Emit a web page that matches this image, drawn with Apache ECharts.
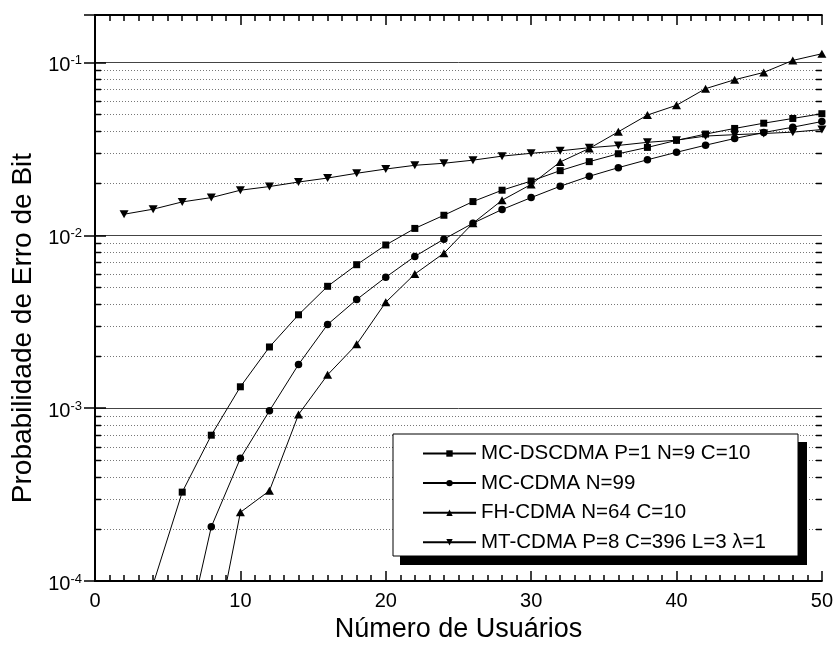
<!DOCTYPE html>
<html>
<head>
<meta charset="utf-8">
<script src="https://cdn.jsdelivr.net/npm/echarts@6/dist/echarts.min.js"></script>
<style>
  html, body { margin: 0; padding: 0; background: #fff; }
  #main { width: 836px; height: 648px; }
</style>
</head>
<body>
<div id="main"></div>
<script>
// valores
var xMcDs = [4, 6, 8, 10, 12, 14, 16, 18, 20, 22, 24, 26, 28, 30, 32, 34, 36, 38, 40, 42, 44, 46, 48, 50];
var yMcDs = [9.6e-5, 3.27e-4, 6.98e-4, 1.33e-3, 2.26e-3, 3.47e-3, 5.07e-3, 6.76e-3, 8.79e-3, 0.01096,
  0.01306, 0.01567, 0.01823, 0.0206, 0.02366, 0.02667, 0.02963, 0.03224, 0.0354, 0.0385,
  0.0415, 0.0445, 0.0474, 0.0505];

var xMc = [6, 8, 10, 12, 14, 16, 18, 20, 22, 24, 26, 28, 30, 32, 34, 36, 38, 40, 42, 44, 46, 48, 50];
var yMc = [3.7e-5, 2.06e-4, 5.13e-4, 9.66e-4, 1.79e-3, 3.05e-3, 4.25e-3, 5.72e-3, 7.55e-3, 9.5e-3,
  0.01175, 0.0141, 0.01652, 0.01922, 0.02195, 0.02462, 0.02735, 0.0302, 0.0332, 0.0363,
  0.0393, 0.0422, 0.0455];

var xFh = [8, 10, 12, 14, 16, 18, 20, 22, 24, 26, 28, 30, 32, 34, 36, 38, 40, 42, 44, 46, 48, 50];
var yFh = [3.5e-5, 2.5e-4, 3.33e-4, 9.2e-4, 1.56e-3, 2.34e-3, 4.1e-3, 5.97e-3, 7.88e-3, 0.01175,
  0.01595, 0.0197, 0.02655, 0.0318, 0.0397, 0.0496, 0.0565, 0.0705, 0.0794, 0.0875,
  0.1027, 0.1122];

var xMt = [2, 4, 6, 8, 10, 12, 14, 16, 18, 20, 22, 24, 26, 28, 30, 32, 34, 36, 38, 40, 42, 44, 46, 48, 50];
var yMt = [0.01324, 0.01416, 0.0156, 0.01652, 0.01823, 0.01914, 0.02033, 0.02144, 0.02284, 0.02417,
  0.0254, 0.0261, 0.0272, 0.0287, 0.0298, 0.0308, 0.0321, 0.0331, 0.0345, 0.0355,
  0.0375, 0.0382, 0.0388, 0.0395, 0.0409];

var names = ["MC-DSCDMA P=1 N=9 C=10", "MC-CDMA N=99", "FH-CDMA N=64 C=10", "MT-CDMA P=8 C=396 L=3 \u03bb=1"];

var decades = [1e-4, 1e-3, 1e-2, 1e-1];
var mults = [2, 3, 4, 5, 6, 7, 8, 9];
var yMin = 1e-4, yMax = 0.188;
var xMin = 0, xMax = 50;

var font = "Liberation Sans, Arial, sans-serif";

function pairs(xs, ys) {
  var out = [];
  for (var i = 0; i < xs.length; i++) out.push([xs[i], ys[i]]);
  return out;
}

// posicoes 2..9 x 10^n para grade pontilhada e ticks menores
var minorVals = [];
decades.forEach(function (d) {
  mults.forEach(function (m) {
    var v = d * m;
    if (v < yMax) minorVals.push([xMin, v]);
  });
});

function renderMinor(params, api) {
  var v = api.value(1);
  var a = api.coord([xMin, v]);
  var b = api.coord([xMax, v]);
  var y = Math.round(a[1]) + 0.5;
  var tick = { stroke: "#000", lineWidth: 1.5 };
  return {
    type: "group",
    children: [
      { type: "line", shape: { x1: a[0], y1: y, x2: b[0], y2: y }, style: { stroke: "#777", lineWidth: 1, lineDash: [1, 2] } },
      { type: "line", shape: { x1: a[0], y1: y, x2: a[0] + 6, y2: y }, style: tick },
      { type: "line", shape: { x1: b[0] - 6, y1: y, x2: b[0], y2: y }, style: tick }
    ]
  };
}

function yLabel(v) {
  var e = Math.log10(v);
  var r = Math.round(e);
  if (Math.abs(e - r) > 1e-6) return "";
  return "{b|10}{s|" + r + "}";
}

function lineSeries(name, data, symbol, size, rotate) {
  return {
    name: name,
    type: "line",
    data: data,
    symbol: symbol,
    symbolSize: size,
    symbolRotate: rotate || 0,
    showSymbol: true,
    clip: true,
    lineStyle: { color: "#000", width: 1 },
    itemStyle: { color: "#000" },
    z: 3
  };
}

var myChart = echarts.init(document.getElementById("main"), null, { renderer: "canvas" });

var option = {
  animation: false,
  backgroundColor: "#fff",
  textStyle: { fontFamily: font, color: "#000" },
  grid: { left: 95, right: 13, top: 15, bottom: 65 },
  xAxis: [
    {
      type: "value",
      min: xMin,
      max: xMax,
      interval: 10,
      name: "Número de Usuários",
      nameLocation: "middle",
      nameGap: 34,
      nameTextStyle: { fontSize: 27, fontFamily: font, color: "#000" },
      axisLine: { lineStyle: { color: "#000", width: 2 } },
      axisTick: { inside: true, length: 10, lineStyle: { color: "#000", width: 1.5 } },
      minorTick: { show: true, splitNumber: 10, length: 6, lineStyle: { color: "#000", width: 1.5 } },
      axisLabel: { fontSize: 20, fontFamily: font, color: "#000", margin: 10 },
      splitLine: { show: false }
    },
    {
      type: "value",
      position: "top",
      min: xMin,
      max: xMax,
      interval: 10,
      axisLine: { lineStyle: { color: "#000", width: 2 } },
      axisTick: { inside: true, length: 10, lineStyle: { color: "#000", width: 1.5 } },
      minorTick: { show: true, splitNumber: 10, length: 6, lineStyle: { color: "#000", width: 1.5 } },
      axisLabel: { show: false },
      splitLine: { show: false }
    }
  ],
  yAxis: [
    {
      type: "log",
      logBase: 10,
      min: yMin,
      max: yMax,
      name: "Probabilidade de Erro de Bit",
      nameLocation: "middle",
      nameGap: 58,
      nameTextStyle: { fontSize: 28, fontFamily: font, color: "#000", padding: [0, 60, 0, 0] },
      axisLine: { show: true, lineStyle: { color: "#000", width: 2 } },
      axisTick: { inside: true, length: 11, lineStyle: { color: "#000", width: 1.5 } },
      axisLabel: {
        formatter: yLabel,
        margin: 13,
        padding: [6, 0, 0, 0],
        rich: {
          b: { fontSize: 20, lineHeight: 22, fontFamily: font, color: "#000" },
          s: { fontSize: 13, lineHeight: 14, fontFamily: font, color: "#000", verticalAlign: "top" }
        }
      },
      splitLine: { show: true, lineStyle: { color: "#444", width: 1 } }
    },
    {
      type: "log",
      logBase: 10,
      position: "right",
      min: yMin,
      max: yMax,
      axisLine: { show: true, lineStyle: { color: "#000", width: 2 } },
      axisTick: { inside: true, length: 11, lineStyle: { color: "#000", width: 1.5 } },
      axisLabel: { show: false },
      splitLine: { show: false }
    }
  ],
  legend: {
    orient: "vertical",
    left: 422,
    top: 443,
    padding: 0,
    itemWidth: 53,
    itemHeight: 8,
    itemGap: 8.6,
    z: 30,
    data: names,
    textStyle: { fontSize: 20.5, lineHeight: 20, fontFamily: font, color: "#000" }
  },
  graphic: [
    { type: "rect", z: 20, shape: { x: 400, y: 442, width: 407, height: 123 }, style: { fill: "#000" } },
    { type: "rect", z: 21, shape: { x: 393, y: 434, width: 405, height: 122 }, style: { fill: "#fff", stroke: "#000", lineWidth: 1 } }
  ],
  series: [
    {
      name: "grade",
      type: "custom",
      renderItem: renderMinor,
      data: minorVals,
      encode: { x: 0, y: 1 },
      silent: true,
      z: 1
    },
    lineSeries(names[0], pairs(xMcDs, yMcDs), "rect", 7),
    lineSeries(names[1], pairs(xMc, yMc), "circle", 7.5),
    lineSeries(names[2], pairs(xFh, yFh), "triangle", [9, 8]),
    lineSeries(names[3], pairs(xMt, yMt), "triangle", [9, 8], 180)
  ]
};

option && myChart.setOption(option);
</script>
</body>
</html>
